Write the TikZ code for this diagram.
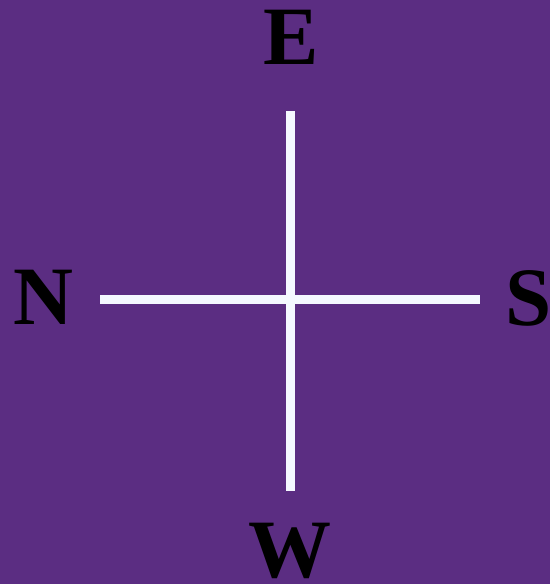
\documentclass[tikz,border=0pt]{standalone}
\usepackage{fontspec}
\setmainfont{Liberation Serif}
\definecolor{bgpurple}{HTML}{5B2D82}
\definecolor{linewhite}{HTML}{F5F8FF}
\begin{document}
\begin{tikzpicture}[x=1pt,y=1pt,
  letter/.style={anchor=base,inner sep=0pt,font=\fontsize{83}{83}\selectfont\bfseries,text=black},
  crossline/.style={draw=linewhite,line width=9pt}]
\fill[bgpurple] (0,0) rectangle (550,584);
\useasboundingbox (0,0) rectangle (550,584);
\coordinate (top) at (290,473);
\coordinate (bottom) at (290,93);
\coordinate (left) at (100,284);
\coordinate (right) at (480,284);
\draw[crossline] (top) -- (bottom);
\draw[crossline] (left) -- (right);
\node[letter] (E) at (291,519) {E};
\node[letter] (N) at (43,259) {N};
\node[letter] (S) at (529,258) {S};
\node[letter] (W) at (290,6) {W};
\end{tikzpicture}
\end{document}
